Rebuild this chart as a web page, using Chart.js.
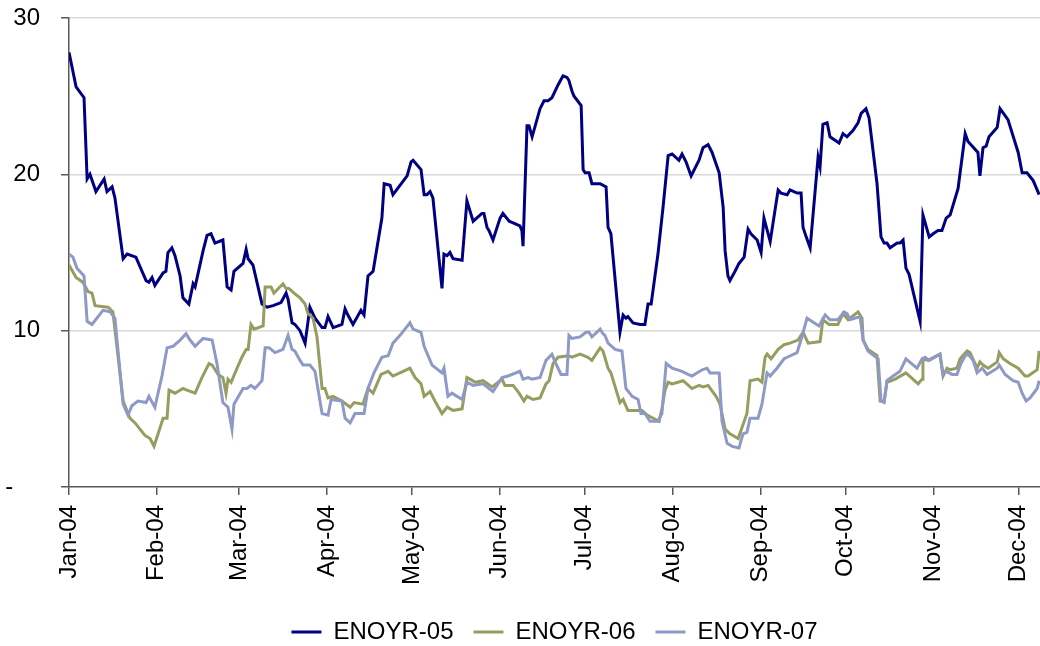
<!DOCTYPE html>
<html>
<head>
<meta charset="utf-8">
<script src="https://cdn.jsdelivr.net/npm/chart.js@4.4.1/dist/chart.umd.min.js"></script>
<style>
  html, body { margin: 0; padding: 0; background: #fff; }
  #wrap { width: 1040px; height: 646px; }
</style>
</head>
<body>
<div id="wrap"><canvas id="enoChart" width="1040" height="646"></canvas></div>
<script>
// x values are days counted from 1 Jan 2004
const monthLabels = ['Jan-04', 'Feb-04', 'Mar-04', 'Apr-04', 'May-04', 'Jun-04',
  'Jul-04', 'Aug-04', 'Sep-04', 'Oct-04', 'Nov-04', 'Dec-04'];
const monthStarts = [0, 31, 60, 91, 121, 152, 182, 213, 244, 274, 305, 335];
const yTicks = [0, 10, 20, 30];
const seriesNames = ['ENOYR-05', 'ENOYR-06', 'ENOYR-07'];

const days05 = [0, 2.5, 5.3, 6.4, 7.4, 9.5, 12.4, 13.4, 15.2, 16.2, 19.1, 20.5, 23.6, 27.2, 28.2, 29.3, 30.3,
  33.2, 34.2, 34.9, 36.3, 37.4, 39.2, 40.2, 42.3, 43.8, 44.5, 47.3, 48.7, 50.1, 51.5, 54.3, 55.8, 57.2, 58.2,
  61.4, 62.5, 63.2, 64.9, 68.1, 69.9, 72.0, 74.8, 76.6, 77.3, 78.7, 79.7, 81.5, 83.3, 85.0, 86.8, 89.3, 90.3,
  91.4, 93.2, 96.3, 97.4, 98.4, 100.2, 103.0, 104.1, 105.5, 107.3, 110.4, 111.2, 113.3, 114.3, 119.3, 120.7,
  121.4, 124.2, 125.3, 126.3, 127.4, 128.4, 131.6, 132.3, 133.4, 134.4, 135.5, 138.7, 140.4, 142.6, 145.7,
  146.4, 147.5, 148.2, 149.6, 152.1, 153.1, 155.3, 156.7, 159.1, 159.8, 160.2, 161.6, 162.3, 163.4, 166.2,
  167.6, 169.0, 170.4, 172.5, 174.3, 175.7, 176.4, 177.5, 178.2, 180.7, 181.4, 182.1, 183.5, 184.5, 187.4,
  189.5, 190.2, 191.2, 194.4, 195.5, 196.5, 197.2, 199.0, 201.5, 203.2, 204.3, 205.4, 207.8, 209.6, 211.4,
  212.8, 215.2, 216.3, 217.7, 219.5, 222.3, 223.7, 225.5, 226.9, 229.4, 230.8, 231.5, 232.5, 233.2, 235.0,
  236.4, 238.2, 239.6, 240.6, 242.8, 244.2, 245.2, 247.4, 250.2, 251.2, 253.4, 254.4, 256.9, 258.3, 259.0,
  260.1, 261.5, 264.3, 265.0, 266.0, 267.5, 268.5, 271.7, 273.1, 274.5, 276.6, 278.4, 279.5, 281.2, 282.3,
  285.1, 286.5, 287.6, 288.6, 289.7, 292.2, 293.2, 294.3, 295.3, 296.4, 300.3, 301.3, 303.5, 304.9, 306.6,
  308.0, 309.5, 310.9, 313.7, 316.2, 317.2, 320.7, 321.4, 322.5, 323.6, 324.6, 327.5, 328.5, 331.3, 334.9,
  336.3, 338.0, 340.2, 342.3];
const vals05 = [27.8, 25.6, 24.9, 19.7, 20.0, 18.9, 19.7, 18.9, 19.2, 18.5, 14.6, 14.9, 14.7, 13.2, 13.1, 13.4, 12.9,
  13.7, 13.8, 15.0, 15.3, 14.8, 13.5, 12.1, 11.7, 13.0, 12.8, 15.1, 16.1, 16.2, 15.6, 15.8, 12.8, 12.6, 13.8,
  14.3, 15.2, 14.6, 14.2, 11.7, 11.5, 11.6, 11.8, 12.4, 12.0, 10.5, 10.4, 10.0, 9.2, 11.5, 10.8, 10.2, 10.2,
  10.9, 10.2, 10.4, 11.4, 11.0, 10.4, 11.3, 11.0, 13.5, 13.8, 17.2, 19.4, 19.3, 18.7, 19.9, 20.8,
  20.9, 20.3, 18.7, 18.7, 18.9, 18.5, 12.7, 14.9, 14.8, 15.0, 14.6, 14.5, 18.3, 17.0, 17.5,
  17.5, 16.6, 16.4, 15.8, 17.2, 17.5, 17.0, 16.9, 16.7, 16.4, 15.4, 23.1, 23.1, 22.4, 24.2,
  24.7, 24.7, 24.9, 25.7, 26.3, 26.2, 26.0, 25.3, 25.0, 24.4, 20.3, 20.1, 20.1, 19.4, 19.4,
  19.2, 16.6, 16.2, 9.9, 11.0, 10.8, 10.9, 10.5, 10.4, 10.4, 11.7, 11.7, 14.9, 17.9, 21.2,
  21.3, 20.9, 21.3, 20.8, 19.9, 20.9, 21.7, 21.9, 21.4, 20.1, 17.9, 15.1, 13.5, 13.2, 13.8,
  14.3, 14.7, 16.5, 16.2, 15.8, 15.0, 17.2, 15.7, 19.0, 18.8, 18.7, 19.0, 18.8, 18.8, 16.6,
  16.0, 15.3, 21.1, 20.5, 23.2, 23.3, 22.4, 22.0, 22.6, 22.4, 22.8, 23.3, 23.9, 24.2, 23.6,
  19.4, 16.0, 15.6, 15.6, 15.3, 15.6, 15.6, 15.8, 14.0, 13.6, 10.6, 17.4, 16.0, 16.2, 16.4,
  16.4, 17.2, 17.4, 19.1, 22.6, 22.1, 21.4, 19.9, 21.7, 21.8, 22.4, 23.0, 24.2, 23.5, 21.4,
  20.1, 20.1, 19.6, 18.7];

const days06 = [0, 2.5, 4.9, 6.7, 8.1, 9.2, 13.8, 15.5, 19.1, 21.5, 23.3, 26.8, 28.6, 30.0, 33.2, 34.6, 35.3,
  37.4, 40.2, 41.6, 44.5, 46.9, 49.4, 50.5, 52.6, 54.3, 55.4, 56.1, 57.2, 59.3, 61.0, 62.5, 63.2, 64.2, 65.3,
  68.5, 69.2, 71.3, 72.3, 75.5, 76.6, 77.6, 79.4, 81.5, 83.3, 84.3, 86.1, 87.5, 89.3, 90.3, 91.4, 93.2, 96.3,
  99.2, 100.6, 103.7, 105.5, 107.3, 110.1, 112.6, 114.3, 117.9, 120.3, 122.1, 124.2, 125.3, 127.4, 129.1,
  131.6, 133.4, 135.5, 138.7, 140.4, 141.5, 143.3, 146.1, 149.3, 152.8, 153.8, 156.7, 158.8, 160.5, 161.6,
  163.7, 166.2, 168.3, 169.4, 170.8, 172.5, 176.1, 177.5, 180.3, 183.1, 184.5, 187.4, 188.4, 190.2, 191.2,
  194.4, 195.5, 197.2, 202.2, 204.0, 206.1, 208.2, 209.2, 210.3, 211.4, 212.8, 216.7, 219.8, 222.3, 223.7,
  225.5, 228.3, 229.7, 231.5, 233.2, 236.1, 239.2, 240.3, 243.1, 244.5, 245.6, 246.3, 247.7, 250.2, 252.3,
  254.4, 257.2, 259.0, 260.8, 265.0, 266.0, 268.2, 271.3, 273.1, 274.9, 278.4, 279.8, 280.2, 281.9, 285.1,
  286.2, 287.6, 288.6, 291.5, 295.3, 299.6, 301.0, 301.3, 303.1, 307.3, 308.4, 309.8, 310.9, 313.3, 314.4,
  316.9, 317.9, 320.4, 321.4, 322.5, 324.3, 327.5, 328.2, 329.6, 332.0, 334.9, 337.3, 338.4, 341.6, 342.3];
const vals06 = [14.2, 13.4, 13.1, 12.5, 12.4, 11.6, 11.5, 11.2, 5.5, 4.4, 4.1, 3.3, 3.1, 2.6, 4.4, 4.4, 6.2,
  6.0, 6.3, 6.2, 6.0, 7.0, 7.9, 7.8, 7.2, 7.0, 6.0, 6.9, 6.7, 7.6, 8.3, 8.8, 8.8, 10.4, 10.1,
  10.3, 12.8, 12.8, 12.4, 13.0, 12.7, 12.7, 12.4, 12.1, 11.7, 11.1, 10.8, 9.6, 6.3, 6.3, 5.7, 5.8, 5.5,
  5.1, 5.4, 5.3, 6.3, 6.0, 7.2, 7.4, 7.1, 7.4, 7.6, 7.0, 6.6, 5.8, 6.1, 5.5,
  4.7, 5.1, 4.9, 5.0, 7.0, 6.9, 6.7, 6.8, 6.4, 6.9, 6.5, 6.5, 6.0, 5.5, 5.8,
  5.6, 5.7, 6.6, 6.8, 7.9, 8.3, 8.4, 8.3, 8.5, 8.3, 8.1, 8.9, 8.7, 7.6, 7.3,
  5.4, 5.6, 4.9, 4.9, 4.6, 4.4, 4.2, 5.0, 6.2, 6.7, 6.6, 6.8, 6.3, 6.5, 6.4,
  6.5, 5.8, 5.3, 3.7, 3.4, 3.1, 4.7, 6.8, 6.9, 6.7, 8.3, 8.5, 8.2, 8.8, 9.1,
  9.2, 9.4, 9.9, 9.2, 9.3, 10.7, 10.4, 10.4, 11.1, 10.7, 11.2, 10.8, 9.4, 8.8, 8.4,
  5.5, 5.5, 6.7, 6.9, 7.3, 6.6, 6.9, 8.2, 8.1, 8.5, 7.1, 7.6, 7.5, 7.6, 8.2,
  8.7, 8.6, 7.6, 8.0, 7.8, 7.6, 8.0, 8.6, 8.2, 7.9, 7.6, 7.1, 7.1, 7.5, 8.7];

const days07 = [0, 1.4, 2.8, 5.3, 6.4, 8.1, 12.0, 14.5, 16.2, 19.1, 20.8, 22.2, 24.3, 27.2, 28.2, 30.3, 32.8,
  34.6, 36.7, 39.2, 41.3, 42.7, 44.5, 47.3, 50.5, 52.2, 54.3, 56.1, 57.5, 58.2, 61.4, 62.8, 64.2, 65.6, 68.1,
  69.2, 70.6, 72.7, 75.5, 77.3, 78.7, 79.7, 81.5, 82.6, 85.0, 86.8, 89.3, 91.4, 92.5, 96.3, 97.4, 99.2, 100.9,
  104.1, 105.5, 107.6, 110.4, 112.6, 114.3, 116.8, 120.3, 121.4, 124.2, 125.3, 128.1, 131.6, 132.3, 133.7,
  135.1, 138.7, 140.4, 142.6, 146.1, 149.6, 152.8, 154.9, 159.1, 160.2, 162.0, 163.4, 166.2, 168.3, 170.4,
  171.5, 173.6, 175.7, 176.4, 177.5, 180.3, 182.4, 183.5, 184.5, 187.4, 188.4, 189.1, 190.2, 192.7, 195.1,
  196.5, 198.7, 200.8, 201.8, 203.2, 205.0, 207.8, 209.2, 210.7, 212.8, 216.3, 218.4, 219.8, 223.4, 225.1,
  226.2, 229.4, 230.4, 232.2, 234.0, 236.4, 237.8, 239.2, 240.3, 243.1, 244.5, 246.3, 247.4, 249.8, 252.3,
  253.4, 256.9, 258.6, 260.4, 264.6, 266.8, 268.5, 271.3, 273.5, 274.5, 275.6, 279.1, 280.2, 281.9, 285.5,
  286.5, 287.6, 288.6, 290.8, 293.2, 295.3, 299.2, 301.0, 302.1, 303.5, 307.3, 308.4, 309.5, 311.6, 313.3,
  314.7, 316.2, 317.2, 319.0, 320.4, 322.2, 323.9, 327.5, 328.2, 330.3, 333.1, 334.9, 336.3, 337.7, 339.1,
  341.6, 342.3];
const vals07 = [14.9, 14.7, 14.0, 13.5, 10.6, 10.4, 11.3, 11.2, 10.8, 5.3, 4.6, 5.2, 5.5, 5.4, 5.8, 5.1, 7.1,
  8.9, 9.0, 9.4, 9.8, 9.4, 9.0, 9.5, 9.4, 7.9, 5.4, 5.1, 3.7, 5.3, 6.3, 6.3, 6.5, 6.3, 6.8,
  8.9, 8.9, 8.6, 8.8, 9.7, 8.8, 8.7, 8.1, 7.8, 7.8, 7.4, 4.7, 4.6, 5.6, 5.5, 4.4, 4.1, 4.7,
  4.7, 6.3, 7.3, 8.3, 8.4, 9.2, 9.7, 10.5, 10.1, 9.9, 9.0, 7.8, 7.3, 7.6, 5.8,
  6.0, 5.6, 6.7, 6.5, 6.6, 6.1, 7.0, 7.1, 7.4, 6.9, 7.0, 6.9, 7.0, 8.1, 8.5,
  8.0, 7.2, 7.2, 9.7, 9.5, 9.6, 9.9, 9.9, 9.6, 10.1, 9.8, 9.7, 9.2, 8.8, 8.7,
  6.3, 5.8, 5.6, 4.7, 4.7, 4.2, 4.2, 4.7, 7.9, 7.6, 7.4, 7.2, 7.1, 7.5, 7.6,
  7.3, 7.3, 4.2, 2.8, 2.6, 2.5, 3.4, 3.5, 4.4, 4.4, 5.3, 7.3, 7.1, 7.6, 8.2,
  8.3, 8.6, 9.6, 10.8, 10.3, 11.0, 10.7, 10.7, 11.2, 11.1, 10.7, 10.9, 9.4, 8.7, 8.2,
  5.5, 5.4, 6.8, 7.1, 7.4, 8.2, 7.6, 8.2, 8.3, 8.1, 8.5, 7.2, 7.4, 7.2, 7.2,
  7.9, 8.4, 8.5, 8.1, 7.3, 7.6, 7.2, 7.6, 7.8, 7.2, 6.8, 6.7, 6.0, 5.5, 5.7,
  6.3, 6.8];

const toPoints = (days, vals) => days.map((d, i) => ({ x: d, y: vals[i] }));

Chart.defaults.font.family = '"Liberation Sans", Arial, sans-serif';
Chart.defaults.font.size = 24;
Chart.defaults.color = '#000';

const axisColor = '#595959';

const data = {
  datasets: [
    { label: seriesNames[0], data: toPoints(days05, vals05), borderColor: '#000080', backgroundColor: '#000080', borderWidth: 3, order: 2 },
    { label: seriesNames[1], data: toPoints(days06, vals06), borderColor: '#959d5f', backgroundColor: '#959d5f', borderWidth: 3, order: 1 },
    { label: seriesNames[2], data: toPoints(days07, vals07), borderColor: '#8e99c6', backgroundColor: '#8e99c6', borderWidth: 3, order: 0 }
  ]
};

const options = {
  responsive: false,
  animation: false,
  devicePixelRatio: 1,
  layout: { padding: { top: 18, right: 0, left: 0, bottom: -8 } },
  elements: {
    line: { borderWidth: 3, tension: 0 },
    point: { radius: 0, hoverRadius: 0 }
  },
  plugins: {
    tooltip: { enabled: false },
    legend: {
      position: 'bottom',
      fullSize: false,
      labels: {
        usePointStyle: true,
        pointStyle: 'line',
        pointStyleWidth: 30,
        padding: 20,
        sort: (a, b) => a.datasetIndex - b.datasetIndex
      }
    }
  },
  scales: {
    x: {
      type: 'linear',
      min: 0,
      max: 342.6,
      afterBuildTicks: scale => { scale.ticks = monthStarts.map(v => ({ value: v })); },
      afterFit: scale => {
        scale.height = 113;
        scale.paddingLeft = 0;
        scale.paddingRight = 0;
      },
      ticks: {
        autoSkip: false,
        minRotation: 90,
        maxRotation: 90,
        padding: 10,
        callback: (value, index) => monthLabels[index]
      },
      grid: { drawOnChartArea: false, tickLength: 8, tickColor: axisColor, lineWidth: 1.5 },
      border: { color: axisColor, width: 1.5 }
    },
    y: {
      min: 0,
      max: 30,
      afterBuildTicks: scale => { scale.ticks = yTicks.map(v => ({ value: v })); },
      afterFit: scale => {
        scale.width = 69;
        scale.paddingTop = 0;
        scale.paddingBottom = 0;
      },
      ticks: {
        padding: 21,
        callback: value => value === 0 ? '-    ' : String(value)
      },
      grid: {
        color: c => (c.tick && c.tick.value === 0) ? 'rgba(0,0,0,0)' : '#d9d9d9',
        lineWidth: 1.5,
        tickLength: 8,
        tickColor: axisColor
      },
      border: { color: axisColor, width: 1.5 }
    }
  }
};

new Chart('enoChart', { type: 'line', data, options });
</script>
</body>
</html>
